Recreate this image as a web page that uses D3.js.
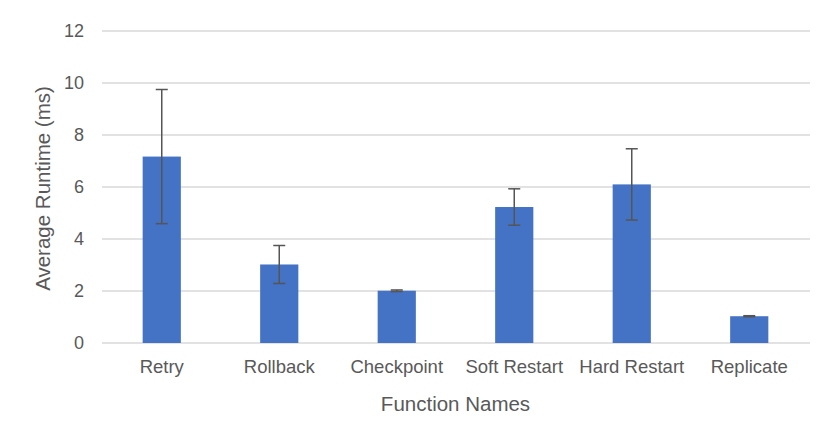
<!DOCTYPE html>
<html>
<head>
<meta charset="utf-8">
<script src="https://cdn.jsdelivr.net/npm/d3@7"></script>
<style>
  body { margin: 0; background: #fff; }
  text { font-family: "Liberation Sans", Arial, sans-serif; fill: #595959; }
</style>
</head>
<body>
<svg id="chart" width="830" height="444"></svg>
<script>
const categories = ["Retry", "Rollback", "Checkpoint", "Soft Restart", "Hard Restart", "Replicate"];
const runtimes = [7.17, 3.02, 2.01, 5.23, 6.1, 1.03];
const errors = [2.58, 0.73, 0.03, 0.7, 1.37, 0.02];
const yTicks = [0, 2, 4, 6, 8, 10, 12];

const data = categories.map((c, i) => ({ name: c, value: runtimes[i], err: errors[i] }));

const svg = d3.select("#chart");
const margin = { top: 31, right: 22, bottom: 101, left: 103 };
const width = 830 - margin.left - margin.right;
const height = 444 - margin.top - margin.bottom;

const g = svg.append("g")
  .attr("transform", `translate(${margin.left},${margin.top})`);

const x = d3.scaleBand()
  .domain(categories)
  .range([0, width])
  .paddingInner(0.675)
  .paddingOuter(0.3375);

const y = d3.scaleLinear().domain([0, 12]).range([height, 0]);

// gridlines
g.append("g")
  .selectAll("line")
  .data(yTicks)
  .join("line")
  .attr("x1", -1)
  .attr("x2", width + 2)
  .attr("y1", d => y(d))
  .attr("y2", d => y(d))
  .attr("stroke", "#d9d9d9")
  .attr("stroke-width", 1.5);

// y axis labels
const yAxis = g.append("g")
  .call(d3.axisLeft(y).tickValues(yTicks).tickSize(0).tickPadding(19));
yAxis.select(".domain").remove();
yAxis.selectAll("text")
  .style("font-size", "18px")
  .attr("fill", "#595959");

// bars
g.selectAll(".bar")
  .data(data)
  .join("rect")
  .attr("class", "bar")
  .attr("x", d => x(d.name))
  .attr("width", x.bandwidth())
  .attr("y", d => y(d.value))
  .attr("height", d => y(0) - y(d.value))
  .attr("fill", "#4472c4");

// error bars
const eb = g.selectAll(".err")
  .data(data)
  .join("g")
  .attr("class", "err")
  .attr("stroke", "#555")
  .attr("stroke-width", 1.5);

eb.append("line")
  .attr("x1", d => x(d.name) + x.bandwidth() / 2)
  .attr("x2", d => x(d.name) + x.bandwidth() / 2)
  .attr("y1", d => y(d.value + d.err))
  .attr("y2", d => y(d.value - d.err));

[1, -1].forEach(s => {
  eb.append("line")
    .attr("x1", d => x(d.name) + x.bandwidth() / 2 - 6)
    .attr("x2", d => x(d.name) + x.bandwidth() / 2 + 6)
    .attr("y1", d => y(d.value + s * d.err))
    .attr("y2", d => y(d.value + s * d.err));
});

// x axis labels
const xAxis = g.append("g")
  .attr("transform", `translate(0,${height})`)
  .call(d3.axisBottom(x).tickSize(0).tickPadding(17));
xAxis.select(".domain").remove();
xAxis.selectAll("text")
  .style("font-size", "18.5px")
  .attr("fill", "#595959");

// axis titles
svg.append("text")
  .attr("x", margin.left + width / 2)
  .attr("y", 411)
  .attr("text-anchor", "middle")
  .style("font-size", "20.5px")
  .text("Function Names");

svg.append("text")
  .attr("transform", "translate(50,188.5) rotate(-90)")
  .attr("text-anchor", "middle")
  .style("font-size", "20.5px")
  .text("Average Runtime (ms)");
</script>
</body>
</html>
